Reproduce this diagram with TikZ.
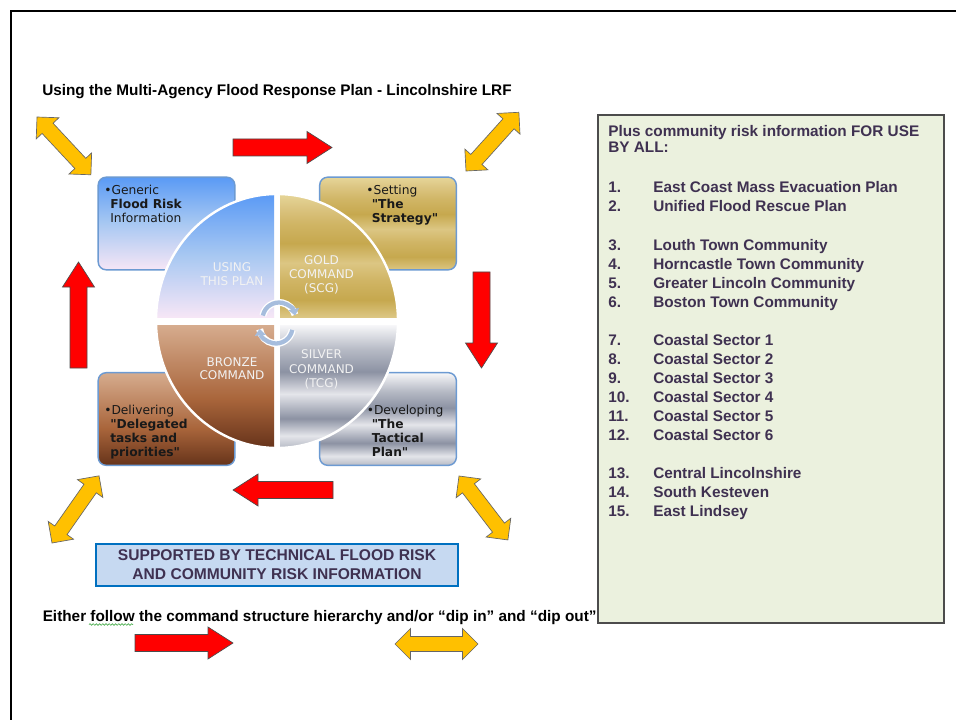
\documentclass[tikz,border=0pt]{standalone}
\usepackage{fontspec}
\setmainfont{Liberation Sans}
\newfontfamily\verdfont{DejaVu Sans}
\usetikzlibrary{arrows.meta,decorations.pathmorphing}

\definecolor{txtpurple}{HTML}{3F3151}
\definecolor{arrred}{HTML}{FF0000}
\definecolor{arryel}{HTML}{FFC000}
\definecolor{panelgreen}{HTML}{EBF1DE}
\definecolor{supblue}{HTML}{C6D9F1}
\definecolor{supborder}{HTML}{0070C0}
\definecolor{boxborder}{HTML}{6C9AD2}
\definecolor{cyclecol}{HTML}{A6BDDD}
\definecolor{spellgreen}{HTML}{4CAF50}

\definecolor{blueT}{HTML}{5A9AF5}
\definecolor{blueM}{HTML}{A8C8F2}
\definecolor{blueB}{HTML}{F6E6F6}
\pgfdeclareverticalshading{bluesh}{100bp}{color(0bp)=(blueB); color(25bp)=(blueB); color(50bp)=(blueM); color(75bp)=(blueT); color(100bp)=(blueT)}

\definecolor{brT}{HTML}{D6AC8E}
\definecolor{brM}{HTML}{A9653B}
\definecolor{brB}{HTML}{66331A}
\pgfdeclareverticalshading{bronzesh}{100bp}{color(0bp)=(brB); color(25bp)=(brB); color(45bp)=(brM); color(75bp)=(brT); color(100bp)=(brT)}

\definecolor{gA}{HTML}{E6D699}
\definecolor{gB}{HTML}{C6A84E}
\definecolor{gC}{HTML}{DCC683}
\definecolor{gD}{HTML}{D0B565}
\pgfdeclareverticalshading{goldsh}{100bp}{color(0bp)=(gC); color(25bp)=(gC); color(32bp)=(gB); color(40bp)=(gD); color(47bp)=(gC); color(55bp)=(gB); color(63bp)=(gD); color(70bp)=(gC); color(75bp)=(gA); color(100bp)=(gA)}

\definecolor{sA}{HTML}{F7F7F9}
\definecolor{sB}{HTML}{8C92A3}
\definecolor{sC}{HTML}{E4E5EA}
\definecolor{sD}{HTML}{B6BAC5}
\pgfdeclareverticalshading{silversh}{100bp}{color(0bp)=(sD); color(25bp)=(sD); color(30bp)=(sC); color(37bp)=(sB); color(47bp)=(sC); color(56bp)=(sB); color(65bp)=(sD); color(75bp)=(sA); color(100bp)=(sA)}

\tikzset{
  redstyle/.style={fill=arrred, draw=black!70, line width=0.5pt},
  yelstyle/.style={fill=arryel, draw=black!60, line width=0.5pt},
  pics/redarr/.style={code={\path[redstyle] (0,-8.5) -- ({#1-25},-8.5) -- ({#1-25},-16) -- (#1,0) -- ({#1-25},16) -- ({#1-25},8.5) -- (0,8.5) -- cycle;}},
  pics/yelarr/.style={code={\path[yelstyle] (0,0) -- (15.5,-15.5) -- (15.5,-7.5) -- ({#1-15.5},-7.5) -- ({#1-15.5},-15.5) -- (#1,0) -- ({#1-15.5},15.5) -- ({#1-15.5},7.5) -- (15.5,7.5) -- (15.5,15.5) -- cycle;}},
  cbox/.style={draw=boxborder, line width=1.1pt, rounded corners=6pt, minimum width=102.5pt, minimum height=69.5pt, inner sep=0pt, shade},
  boxtxt/.style={anchor=base west, inner sep=0pt, text=black!90, font=\verdfont\fontsize{9.2}{10.4}\selectfont},
  boxbold/.style={boxtxt, font=\verdfont\bfseries\fontsize{9.2}{10.4}\selectfont},
  wheeltxt/.style={anchor=base, inner sep=0pt, text=white!95!black, font=\verdfont\fontsize{9}{10}\selectfont},
  maintxt/.style={anchor=base west, inner sep=0pt, text=black, font=\bfseries\fontsize{11.5}{13}\selectfont},
  ptext/.style={anchor=base west, inner sep=0pt, text=txtpurple, font=\bfseries\fontsize{11.5}{13}\selectfont},
  cyclearr/.style={draw=cyclecol, line width=3.2pt, -{Triangle[length=5pt, width=8pt]}},
  cyclehalo/.style={draw=white, line width=5.2pt},
}

\begin{document}
\begin{tikzpicture}[x=0.75pt, y=-0.75pt]
\useasboundingbox (0,0) rectangle (956,720);
\fill[white] (0,0) rectangle (956,720);

% page frame
\draw[black, line width=1.7pt] (10.7,720) -- (10.7,10.7) -- (956,10.7);

% title
\node[maintxt] (title) at (42,96) {Using the Multi-Agency Flood Response Plan - Lincolnshire LRF};

% right panel
\node[draw=black!70, line width=1.1pt, fill=panelgreen, minimum width=259.5pt, minimum height=381pt, inner sep=0pt] (panel) at (771,369) {};
\node[ptext] (ptitle1) at (608,136.5) {Plus community risk information FOR USE};
\node[ptext] (ptitle2) at (608,152.5) {BY ALL:};
\foreach \n/\yy/\t in {1/193/East Coast Mass Evacuation Plan, 2/212/Unified Flood Rescue Plan,
  3/250.5/Louth Town Community, 4/269.5/Horncastle Town Community, 5/288.5/Greater Lincoln Community, 6/307.5/Boston Town Community,
  7/345.5/Coastal Sector 1, 8/364.5/Coastal Sector 2, 9/383.5/Coastal Sector 3, 10/402.5/Coastal Sector 4, 11/421.5/Coastal Sector 5, 12/440.5/Coastal Sector 6,
  13/478.5/Central Lincolnshire, 14/497.5/South Kesteven, 15/516.5/East Lindsey}{
  \node[ptext] (num\n) at (608,\yy) {\n.};
  \node[ptext] (item\n) at (653,\yy) {\t};
}

% four boxes
\node[cbox, shading=bluesh] (genbox) at (166.5,223.5) {};
\node[cbox, shading=goldsh] (setbox) at (388,223.5) {};
\node[cbox, shading=bronzesh] (delbox) at (166.5,419) {};
\node[cbox, shading=silversh] (devbox) at (388,419) {};

% wheel
\coordinate (wheelc) at (277,321);
\fill[white] (wheelc) ellipse [x radius=121, y radius=127];
\begin{scope}
  \clip (wheelc) ellipse [x radius=121, y radius=127];
  \shade[shading=bluesh] (156,194) rectangle (274,317);
  \shade[shading=goldsh] (280,194) rectangle (398,317);
  \shade[shading=bronzesh] (156,325) rectangle (274,448);
  \shade[shading=silversh] (280,325) rectangle (398,448);
\end{scope}
\draw[white, line width=1.8pt] (wheelc) ellipse [x radius=121, y radius=127];

% cycle arrows in the middle
\path[cyclehalo] ([shift={(-168:16.5)}]279,319) arc[start angle=-168, end angle=-15, radius=16.5];
\path[cyclehalo] ([shift={(10:16.5)}]276,327) arc[start angle=10, end angle=172, radius=16.5];
\draw[cyclearr] ([shift={(-168:16.5)}]279,319) arc[start angle=-168, end angle=-12, radius=16.5];
\draw[cyclearr] ([shift={(10:16.5)}]276,327) arc[start angle=10, end angle=174, radius=16.5];

% wheel texts
\node[wheeltxt] (w1a) at (232,272) {USING};
\node[wheeltxt] (w1b) at (232,285.5) {THIS PLAN};
\node[wheeltxt] (w2a) at (321.5,265) {GOLD};
\node[wheeltxt] (w2b) at (321.5,278.5) {COMMAND};
\node[wheeltxt] (w2c) at (321.5,292) {(SCG)};
\node[wheeltxt] (w3a) at (232,366) {BRONZE};
\node[wheeltxt] (w3b) at (232,379) {COMMAND};
\node[wheeltxt] (w4a) at (321.5,358.5) {SILVER};
\node[wheeltxt] (w4b) at (321.5,373) {COMMAND};
\node[wheeltxt] (w4c) at (321.5,387) {(TCG)};

% box texts
\node[boxtxt] (g1) at (104,195) {•Generic};
\node[boxbold] (g2) at (110,208.5) {Flood Risk};
\node[boxtxt] (g3) at (110,222.5) {Information};

\node[boxtxt] (s1) at (366,195) {•Setting};
\node[boxbold] (s2) at (371.5,208.5) {"The};
\node[boxbold] (s3) at (371.5,222.5) {Strategy"};

\node[boxtxt] (d1) at (104,414.5) {•Delivering};
\node[boxbold] (d2) at (110,428.5) {"Delegated};
\node[boxbold] (d3) at (110,442.5) {tasks and};
\node[boxbold] (d4) at (110,456) {priorities"};

\node[boxtxt] (v1) at (366.5,414.5) {•Developing};
\node[boxbold] (v2) at (371.5,428.5) {"The};
\node[boxbold] (v3) at (371.5,442.5) {Tactical};
\node[boxbold] (v4) at (371.5,456) {Plan"};

% red arrows (cycle)
\pic (rtop) at (233,147.5) {redarr=99};
\pic[rotate=-90] (rright) at (481.5,272) {redarr=96};
\pic[rotate=180] (rbottom) at (333,490) {redarr=100};
\pic[rotate=90] (rleft) at (78.5,368) {redarr=106};

% yellow double arrows
\pic[rotate=-47] (ytl) at (37,117) {yelarr=79};
\pic[rotate=48] (ytr) at (466,171) {yelarr=79};
\pic[rotate=55] (ybl) at (52,543) {yelarr=82};
\pic[rotate=-52.6] (ybr) at (459,476) {yelarr=80.5};

% support box
\node[draw=supborder, line width=1.5pt, fill=supblue, minimum width=271.5pt, minimum height=31.5pt, inner sep=0pt, align=center, text=txtpurple, font=\bfseries\fontsize{11.7}{14}\selectfont] (support) at (277,564.5) {SUPPORTED BY TECHNICAL FLOOD RISK\\AND COMMUNITY RISK INFORMATION};

% legend line
\node[maintxt] (either) at (42.5,621.5) {Either follow the command structure hierarchy and/or “dip in” and “dip out”};
\draw[spellgreen, line width=0.5pt, decorate, decoration={snake, amplitude=0.6pt, segment length=2.4pt}] (89,624.5) -- (133,624.5);

\pic (lred) at (135,643) {redarr=98};
\pic (lyel) at (395,644) {yelarr=83};
\end{tikzpicture}
\end{document}
